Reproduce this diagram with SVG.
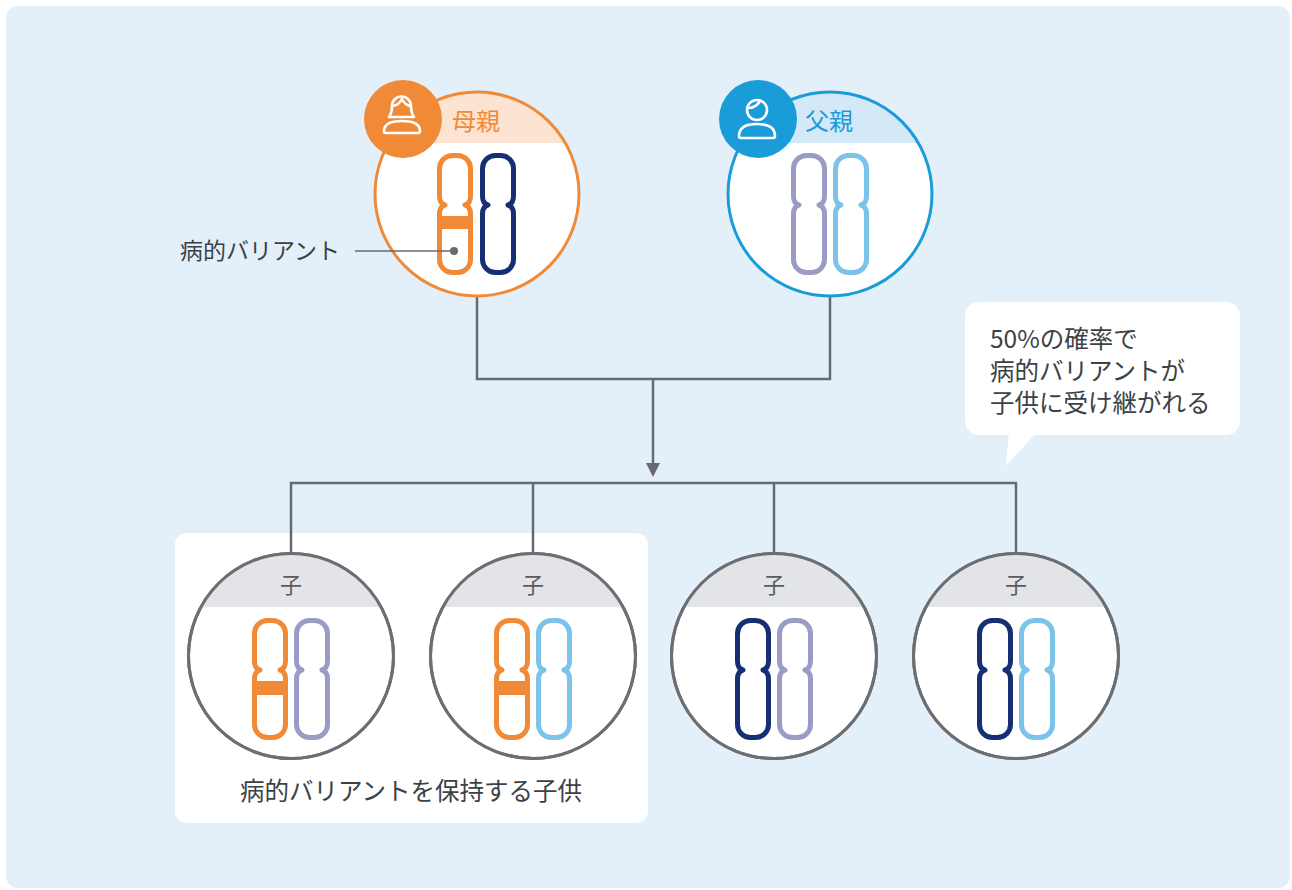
<svg xmlns="http://www.w3.org/2000/svg" width="1292" height="890" viewBox="0 0 1292 890">
  <style>
    .txt { font-family: "Noto Sans CJK JP", "Noto Sans", sans-serif; fill: #3B4246; }
    .conn { fill: none; stroke: #676A6F; stroke-width: 2.5; }
    .chr { fill: none; stroke-width: 5; stroke-linejoin: round; }
    .c-or { stroke: #F18A36; }
    .c-nv { stroke: #162F73; }
    .c-pu { stroke: #9A9CC5; }
    .c-lb { stroke: #7CC3EA; }
    .band { fill: #F18A36; }
    .icon { fill: none; stroke: #fff; stroke-width: 2.6; stroke-linejoin: round; stroke-linecap: round; }
    .child-ring { fill: #fff; stroke: #6C6E72; stroke-width: 3; }
    .child-head { fill: #E3E4E8; }
    .child-lbl { font-size: 22px; fill: #5A5B5E; text-anchor: middle; }
  </style>
  <defs>
    <!-- chromosome outline, origin at top centre, 36 x 122 -->
    <path id="chr" d="M-15.5,15.5 A13,13 0 0 1 -2.5,2.5 L2.5,2.5 A13,13 0 0 1 15.5,15.5 L15.5,43 Q15.5,50.5 10,52 Q15.5,53.5 15.5,61 L15.5,106.5 A13,13 0 0 1 2.5,119.5 L-2.5,119.5 A13,13 0 0 1 -15.5,106.5 L-15.5,61 Q-15.5,53.5 -10,52 Q-15.5,50.5 -15.5,43 Z"/>
    <marker id="arrow" markerUnits="userSpaceOnUse" markerWidth="14" markerHeight="14" refX="0" refY="7" orient="auto">
      <path d="M0,0 L14,7 L0,14 Z" fill="#676A6F"/>
    </marker>
  </defs>

  <!-- backdrop -->
  <rect x="0" y="0" width="1292" height="890" fill="#fff"/>
  <rect x="6" y="6" width="1284" height="882" rx="12" fill="#E3F0F9"/>

  <!-- panel grouping the carrier children -->
  <rect id="carrier-panel" x="175" y="533" width="473" height="290" rx="12" fill="#fff"/>

  <!-- connectors -->
  <g id="connectors">
    <path class="conn" d="M477,297 V379 H830 V297"/>
    <path class="conn" d="M653,379 V463" marker-end="url(#arrow)"/>
    <path class="conn" d="M291,553 V483 H1016 V553"/>
    <path class="conn" d="M533,483 V553"/>
    <path class="conn" d="M774,483 V553"/>
  </g>

  <!-- mother -->
  <g id="mother">
    <circle cx="477" cy="194" r="102" fill="#fff"/>
    <path d="M388.7,143 A102,102 0 0 1 565.3,143 Z" fill="#FDE3D1"/>
    <circle cx="477" cy="194" r="102" fill="none" stroke="#F18A36" stroke-width="3"/>
    <circle cx="403" cy="119" r="39" fill="#F18A36"/>
    <path class="icon" d="M389,117 Q392,113 392,106 A9.5,9.5 0 0 1 411,106 Q411,113 414,117 Z"/>
    <path class="icon" d="M393,106 Q399,105 402,99 Q405,105 410,106"/>
    <path class="icon" d="M384,131 Q384,121 402,121 Q420,121 420,131 Q420,133 418,133 L386,133 Q384,133 384,131 Z"/>
    <text class="txt" x="452" y="130" font-size="24" style="fill:#F18A36">母親</text>
    <g transform="translate(455,153)">
      <rect class="band" x="-16" y="63" width="32" height="13"/>
      <use href="#chr" class="chr c-or"/>
    </g>
    <use href="#chr" class="chr c-nv" transform="translate(498,153)"/>
  </g>

  <!-- variant label -->
  <g id="variant-label">
    <text class="txt" x="180" y="259" font-size="23">病的バリアント</text>
    <line x1="355" y1="251" x2="454" y2="251" stroke="#676A6F" stroke-width="1.5"/>
    <circle cx="454" cy="251" r="4" fill="#676A6F"/>
  </g>

  <!-- father -->
  <g id="father">
    <circle cx="830" cy="194" r="102" fill="#fff"/>
    <path d="M741.7,143 A102,102 0 0 1 918.3,143 Z" fill="#D3E9F7"/>
    <circle cx="830" cy="194" r="102" fill="none" stroke="#1A9CD8" stroke-width="3"/>
    <circle cx="758" cy="119" r="39" fill="#1A9CD8"/>
    <circle class="icon" cx="757" cy="110" r="10"/>
    <path class="icon" d="M748,108 Q756,108 760,101"/>
    <path class="icon" d="M739,136 Q739,124 757,124 Q775,124 775,136 Q775,138 773,138 L741,138 Q739,138 739,136 Z"/>
    <text class="txt" x="805" y="130" font-size="24" style="fill:#1A9CD8">父親</text>
    <use href="#chr" class="chr c-pu" transform="translate(809,153)"/>
    <use href="#chr" class="chr c-lb" transform="translate(851,153)"/>
  </g>

  <!-- speech bubble -->
  <g id="bubble">
    <rect x="965" y="302" width="275" height="133" rx="14" fill="#fff"/>
    <path d="M1009,433 L1036,433 L1006,466 Z" fill="#fff"/>
    <text class="txt" font-size="24.5">
      <tspan x="990" y="348">50%の確率で</tspan>
      <tspan x="990" y="380">病的バリアントが</tspan>
      <tspan x="990" y="412">子供に受け継がれる</tspan>
    </text>
  </g>

  <!-- children -->
  <g id="child-1">
    <circle class="child-ring" cx="291" cy="656" r="102.5"/>
    <path class="child-head" d="M201.5,607 A102.5,102.5 0 0 1 380.5,607 Z"/>
    <circle cx="291" cy="656" r="102.5" fill="none" stroke="#6C6E72" stroke-width="3"/>
    <text class="txt child-lbl" x="291" y="593">子</text>
    <g transform="translate(270,618)">
      <rect class="band" x="-16" y="63" width="32" height="14"/>
      <use href="#chr" class="chr c-or"/>
    </g>
    <use href="#chr" class="chr c-pu" transform="translate(312,618)"/>
  </g>

  <g id="child-2">
    <circle class="child-ring" cx="533" cy="656" r="102.5"/>
    <path class="child-head" d="M443.5,607 A102.5,102.5 0 0 1 622.5,607 Z"/>
    <circle cx="533" cy="656" r="102.5" fill="none" stroke="#6C6E72" stroke-width="3"/>
    <text class="txt child-lbl" x="533" y="593">子</text>
    <g transform="translate(512,618)">
      <rect class="band" x="-16" y="63" width="32" height="14"/>
      <use href="#chr" class="chr c-or"/>
    </g>
    <use href="#chr" class="chr c-lb" transform="translate(554,618)"/>
  </g>

  <g id="child-3">
    <circle class="child-ring" cx="774" cy="656" r="102.5"/>
    <path class="child-head" d="M684.5,607 A102.5,102.5 0 0 1 863.5,607 Z"/>
    <circle cx="774" cy="656" r="102.5" fill="none" stroke="#6C6E72" stroke-width="3"/>
    <text class="txt child-lbl" x="774" y="593">子</text>
    <use href="#chr" class="chr c-nv" transform="translate(753,618)"/>
    <use href="#chr" class="chr c-pu" transform="translate(795,618)"/>
  </g>

  <g id="child-4">
    <circle class="child-ring" cx="1016" cy="656" r="102.5"/>
    <path class="child-head" d="M926.5,607 A102.5,102.5 0 0 1 1105.5,607 Z"/>
    <circle cx="1016" cy="656" r="102.5" fill="none" stroke="#6C6E72" stroke-width="3"/>
    <text class="txt child-lbl" x="1016" y="593">子</text>
    <use href="#chr" class="chr c-nv" transform="translate(995,618)"/>
    <use href="#chr" class="chr c-lb" transform="translate(1037,618)"/>
  </g>

  <!-- panel caption -->
  <text class="txt" x="411" y="800" font-size="24.5" text-anchor="middle">病的バリアントを保持する子供</text>
</svg>
